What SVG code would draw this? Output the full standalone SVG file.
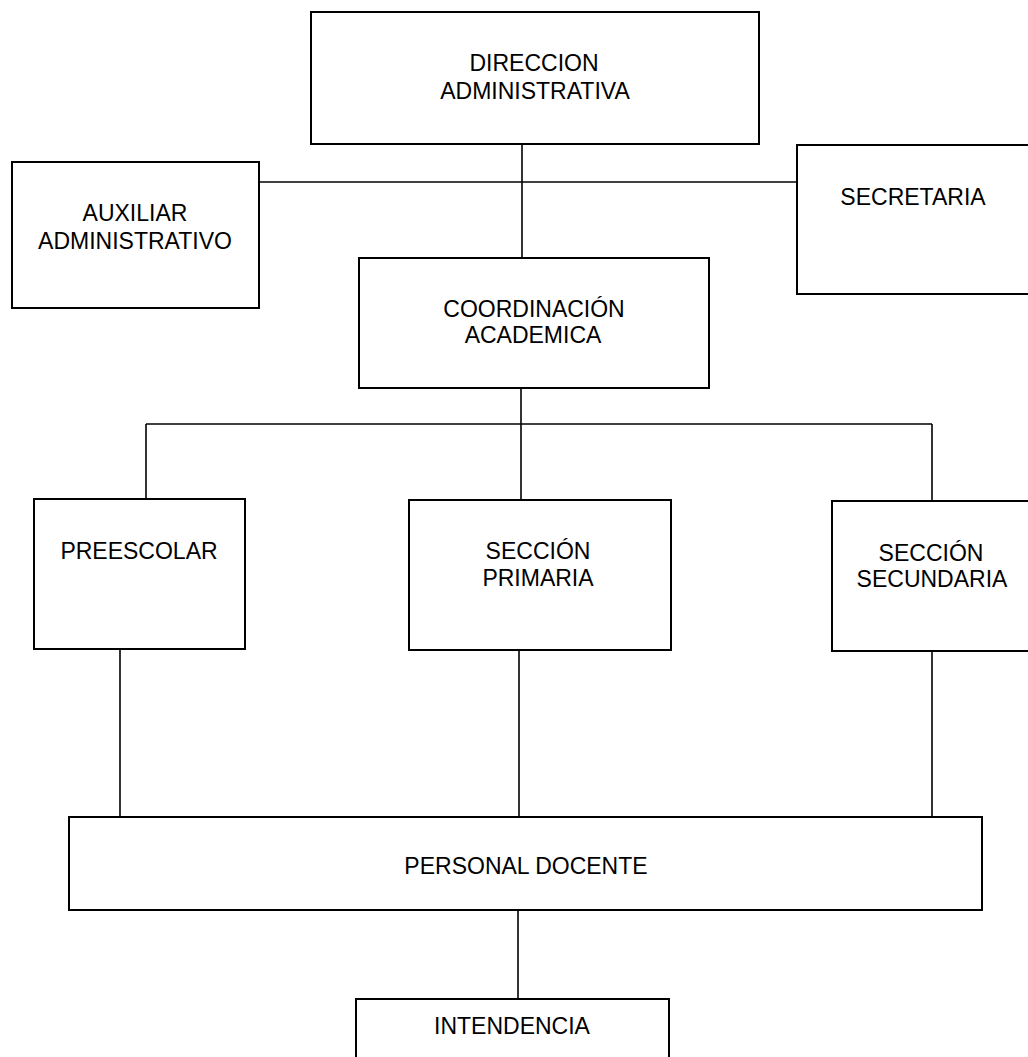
<svg xmlns="http://www.w3.org/2000/svg" width="1028" height="1057" viewBox="0 0 1028 1057">
<style>
.box{fill:#fff;stroke:#000;stroke-width:2}
.ln{stroke:#000;stroke-width:1.6;fill:none}
.t{font-family:"Liberation Sans",Arial,sans-serif;font-size:23px;fill:#000;text-anchor:middle}
</style>
<rect width="1028" height="1057" fill="#fff"/>
<g id="connectors">
<line class="ln" x1="522" y1="144" x2="522" y2="258"/>
<line class="ln" x1="259" y1="182" x2="797" y2="182"/>
<line class="ln" x1="521" y1="388" x2="521" y2="500"/>
<line class="ln" x1="146" y1="424" x2="932" y2="424"/>
<line class="ln" x1="146" y1="424" x2="146" y2="499"/>
<line class="ln" x1="932" y1="424" x2="932" y2="501"/>
<line class="ln" x1="120" y1="649" x2="120" y2="817"/>
<line class="ln" x1="519" y1="650" x2="519" y2="817"/>
<line class="ln" x1="932" y1="651" x2="932" y2="818"/>
<line class="ln" x1="518" y1="910" x2="518" y2="999"/>
</g>
<g id="direccion">
<rect class="box" x="311" y="12" width="448" height="132"/>
<text class="t" x="534" y="71">DIRECCION</text>
<text class="t" x="535" y="99">ADMINISTRATIVA</text>
</g>
<g id="auxiliar">
<rect class="box" x="12" y="162" width="247" height="146"/>
<text class="t" x="135" y="221">AUXILIAR</text>
<text class="t" x="135" y="249">ADMINISTRATIVO</text>
</g>
<g id="secretaria">
<rect class="box" x="797" y="145" width="240" height="149"/>
<text class="t" x="913" y="205">SECRETARIA</text>
</g>
<g id="coordinacion">
<rect class="box" x="359" y="258" width="350" height="130"/>
<text class="t" x="534" y="317">COORDINACIÓN</text>
<text class="t" x="533" y="343">ACADEMICA</text>
</g>
<g id="preescolar">
<rect class="box" x="34" y="499" width="211" height="150"/>
<text class="t" x="139" y="559">PREESCOLAR</text>
</g>
<g id="primaria">
<rect class="box" x="409" y="500" width="262" height="150"/>
<text class="t" x="538" y="559">SECCIÓN</text>
<text class="t" x="538" y="586">PRIMARIA</text>
</g>
<g id="secundaria">
<rect class="box" x="832" y="501" width="205" height="150"/>
<text class="t" x="931" y="561">SECCIÓN</text>
<text class="t" x="932" y="587">SECUNDARIA</text>
</g>
<g id="personal">
<rect class="box" x="69" y="817" width="913" height="93"/>
<text class="t" x="526" y="874">PERSONAL DOCENTE</text>
</g>
<g id="intendencia">
<rect class="box" x="356" y="999" width="313" height="70"/>
<text class="t" x="512" y="1034">INTENDENCIA</text>
</g>
</svg>
